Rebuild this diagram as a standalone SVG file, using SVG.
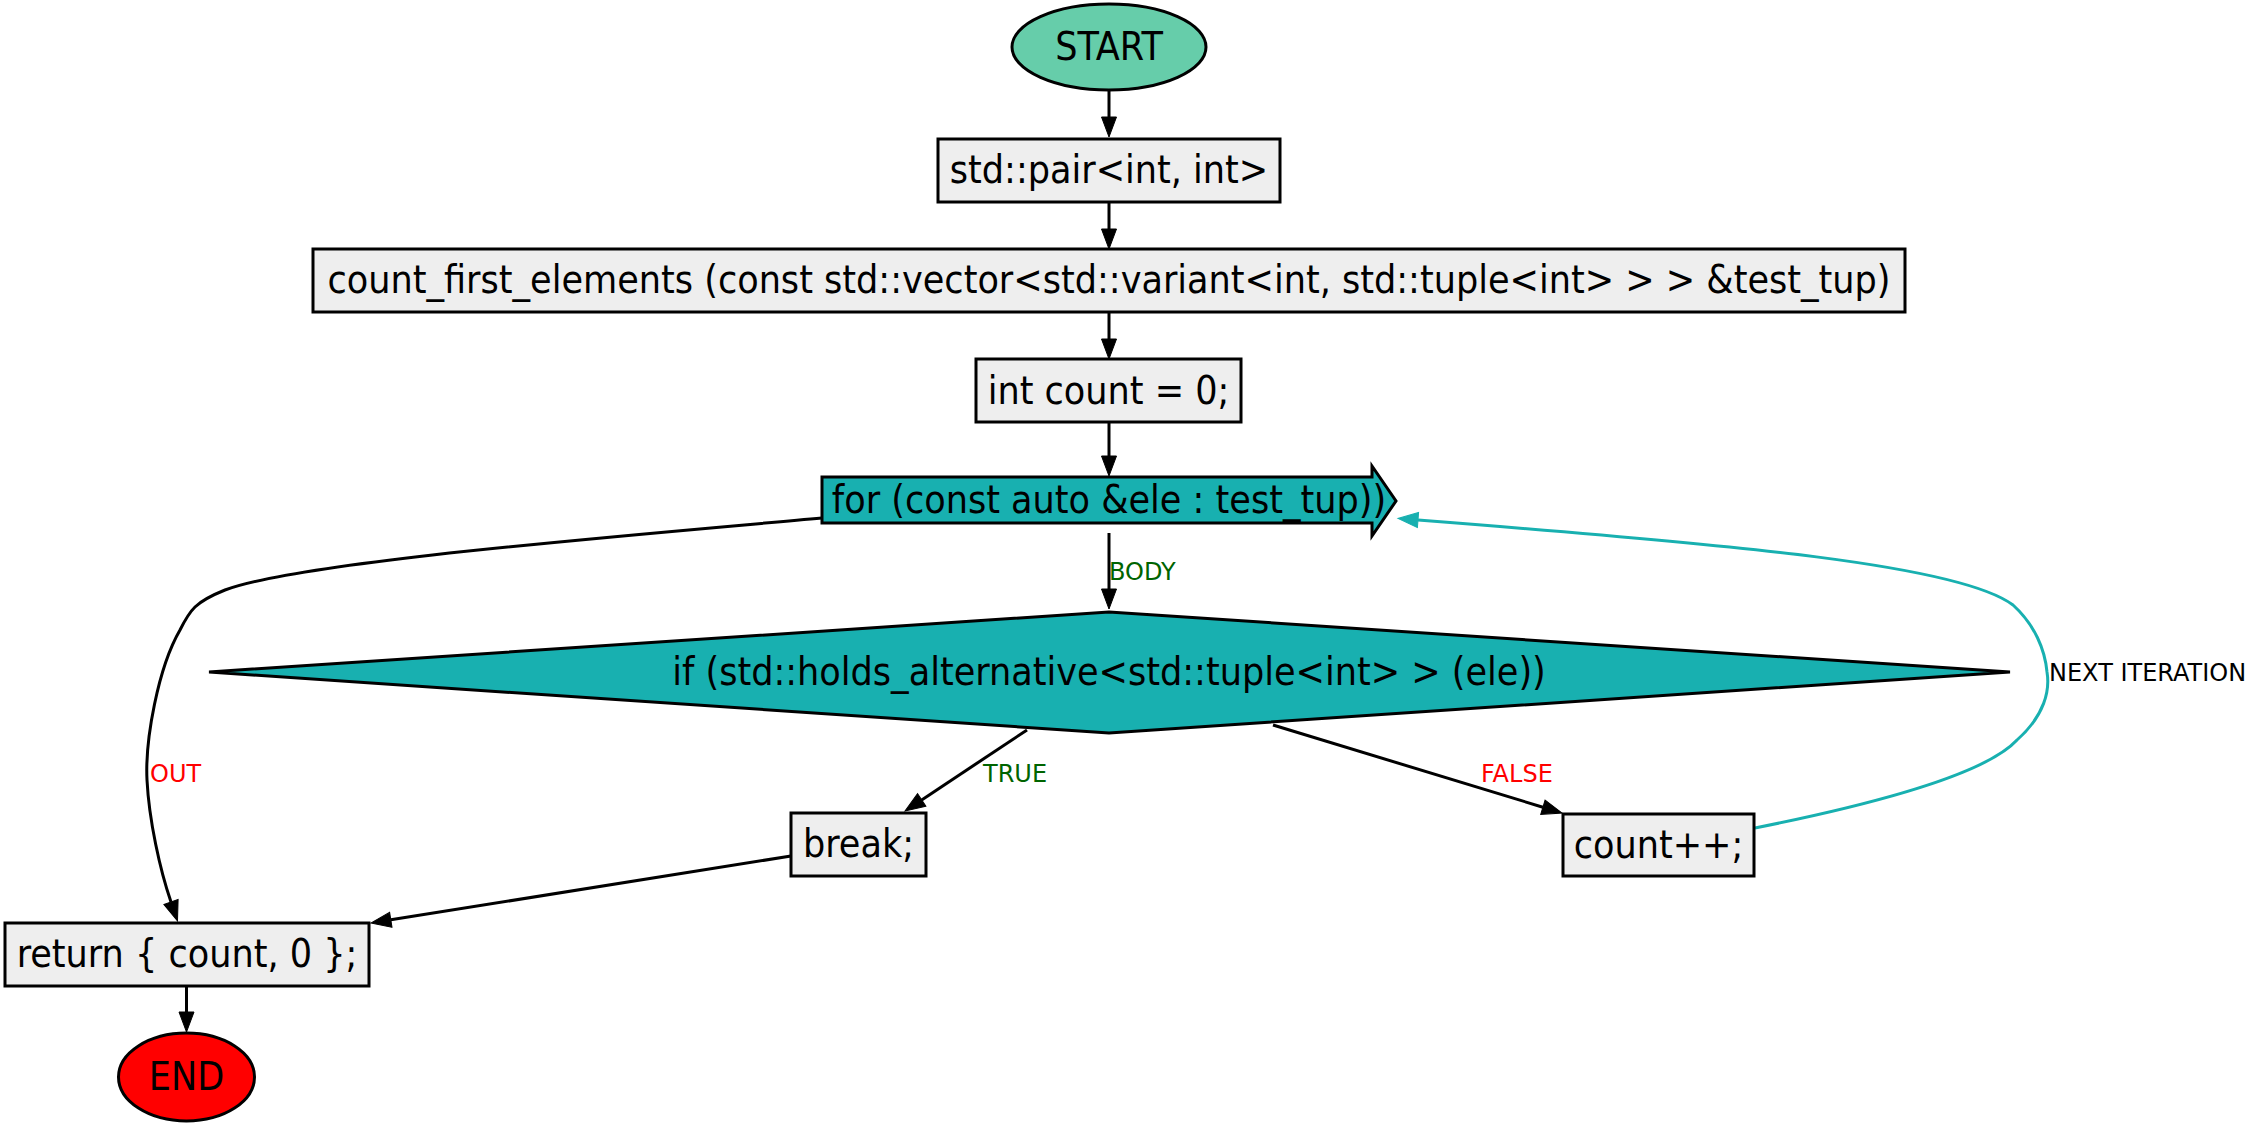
<svg xmlns="http://www.w3.org/2000/svg" width="2260" height="1126" viewBox="0 0 2260 1126">
<style>
.node{stroke:#000;stroke-width:3}
.box{fill:#eeeeee}
.teal{fill:#18b0b0}
.nt{font-family:"DejaVu Sans Condensed","DejaVu Sans",sans-serif;font-stretch:condensed;font-size:39px;fill:#000;text-anchor:middle}
.lbl{font-family:"DejaVu Sans",sans-serif;font-size:24px}
.edge{fill:none;stroke:#000;stroke-width:3}
.loop{fill:none;stroke:#18b0b0;stroke-width:3}
</style>
<defs>
<marker id="ah" markerUnits="userSpaceOnUse" markerWidth="22" markerHeight="16" refX="0" refY="7.5" orient="auto" overflow="visible">
<path d="M0,0 L20,7.5 L0,15 Z" fill="#000" stroke="#000" stroke-width="1"/>
</marker>
<marker id="aht" markerUnits="userSpaceOnUse" markerWidth="22" markerHeight="16" refX="0" refY="7.5" orient="auto" overflow="visible">
<path d="M0,0 L20,7.5 L0,15 Z" fill="#18b0b0" stroke="#18b0b0" stroke-width="1"/>
</marker>
</defs>
<rect width="2260" height="1126" fill="#fff"/>
<g id="connectors">
<path class="edge" d="M1109,91 L1109,117" marker-end="url(#ah)"/>
<path class="edge" d="M1109,202 L1109,229" marker-end="url(#ah)"/>
<path class="edge" d="M1109,312 L1109,339" marker-end="url(#ah)"/>
<path class="edge" d="M1109,422 L1109,456" marker-end="url(#ah)"/>
<path class="edge" d="M1109,533 L1109,589" marker-end="url(#ah)"/>
<text class="lbl" x="1109" y="580" fill="#006400">BODY</text>
<path class="edge" d="M1027,730 L921.7,799.9" marker-end="url(#ah)"/>
<text class="lbl" x="983" y="782" fill="#006400">TRUE</text>
<path class="edge" d="M1273,725 L1542.9,807.2" marker-end="url(#ah)"/>
<text class="lbl" x="1481" y="782" fill="#ff0000">FALSE</text>
<path class="edge" d="M791,856 L390.8,919.8" marker-end="url(#ah)"/>
<path class="edge" d="M186.5,986 L186.5,1012" marker-end="url(#ah)"/>
<path class="edge" d="M822,518 C600,538 300,562 225,590 C195,602 190,610 180,630 C158,668 145,740 147,780 C149,820 160,870 171,902" marker-end="url(#ah)"/>
<text class="lbl" x="150" y="782" fill="#ff0000">OUT</text>
<path class="loop" d="M1755,828 C1870,805 1985,775 2017,740 C2045,715 2050,690 2047,672 C2045,650 2035,625 2013,605 C1960,565 1740,545 1418,520" marker-end="url(#aht)"/>
<text class="lbl" x="2049" y="681" fill="#000">NEXT ITERATION</text>
</g>
<g id="start">
<ellipse class="node" cx="1109" cy="47" rx="97" ry="43" fill="#66cdaa"/>
<text class="nt" x="1109" y="60">START</text>
</g>
<g id="pair">
<rect class="node box" x="938" y="139" width="342" height="63"/>
<text class="nt" x="1109" y="183">std::pair&lt;int, int&gt;</text>
</g>
<g id="func">
<rect class="node box" x="313" y="249" width="1592" height="63"/>
<text class="nt" x="1109" y="293">count_first_elements (const std::vector&lt;std::variant&lt;int, std::tuple&lt;int&gt; &gt; &gt; &amp;test_tup)</text>
</g>
<g id="init">
<rect class="node box" x="976" y="359" width="265" height="63"/>
<text class="nt" x="1108.5" y="404">int count = 0;</text>
</g>
<g id="loop">
<polygon class="node teal" points="822,477 1372,477 1372,466 1396,501 1372,536 1372,523 822,523"/>
<text class="nt" x="1109" y="513">for (const auto &amp;ele : test_tup))</text>
</g>
<g id="cond">
<polygon class="node teal" points="1109,612 2010,672 1109,733 209,672"/>
<text class="nt" x="1109" y="685">if (std::holds_alternative&lt;std::tuple&lt;int&gt; &gt; (ele))</text>
</g>
<g id="brk">
<rect class="node box" x="791" y="813" width="135" height="63"/>
<text class="nt" x="858.5" y="857">break;</text>
</g>
<g id="inc">
<rect class="node box" x="1563" y="814" width="191" height="62"/>
<text class="nt" x="1658.5" y="858">count++;</text>
</g>
<g id="ret">
<rect class="node box" x="5" y="923" width="364" height="63"/>
<text class="nt" x="187" y="967">return { count, 0 };</text>
</g>
<g id="end">
<ellipse class="node" cx="186.5" cy="1077" rx="68" ry="44" fill="#ff0000"/>
<text class="nt" x="186.5" y="1090">END</text>
</g>
</svg>
